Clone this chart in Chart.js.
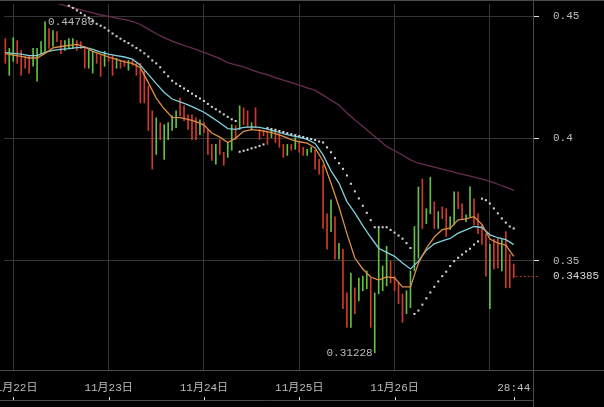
<!DOCTYPE html>
<html>
<head>
<meta charset="utf-8">
<script src="https://cdn.jsdelivr.net/npm/chart.js@4.4.1/dist/chart.umd.min.js"></script>
<style>
  html, body { margin: 0; padding: 0; background: #000; }
  canvas { display: block; }
</style>
</head>
<body>
<canvas id="kline" width="604" height="407"></canvas>
<script>
// hourly bars, hour 0 = 11月22日 00:00
const startHour = -2;

const barHigh = [
    0.4409, 0.4369, 0.4413, 0.4401, 0.4361, 0.4336, 0.4340, 0.4369, 0.4369, 0.4397,
    0.4478, 0.4450, 0.4442, 0.4438, 0.4401, 0.4401, 0.4409, 0.4409, 0.4401, 0.4397,
    0.4377, 0.4361, 0.4357, 0.4348, 0.4340, 0.4357, 0.4340, 0.4340, 0.4328, 0.4320,
    0.4320, 0.4320, 0.4320, 0.4308, 0.4308, 0.4276, 0.4215, 0.4114, 0.4085, 0.4065,
    0.4057, 0.4065, 0.4093, 0.4114, 0.4166, 0.4134, 0.4097, 0.4097, 0.4085, 0.4077,
    0.4065, 0.4037, 0.3976, 0.3976, 0.3996, 0.3944, 0.3984, 0.4057, 0.4053, 0.4134,
    0.4126, 0.4114, 0.4065, 0.4126, 0.4037, 0.4033, 0.4024, 0.4033, 0.4033, 0.4024,
    0.3976, 0.3976, 0.3976, 0.4004, 0.3984, 0.3964, 0.3956, 0.3964, 0.3952, 0.3915,
    0.3891, 0.3692, 0.3749, 0.3680, 0.3571, 0.3547, 0.3368, 0.3449, 0.3389, 0.3429,
    0.3437, 0.3458, 0.3429, 0.3368, 0.3632, 0.3478, 0.3559, 0.3498, 0.3437, 0.3409,
    0.3364, 0.3377, 0.3458, 0.3640, 0.3802, 0.3834, 0.3713, 0.3842, 0.3741, 0.3701,
    0.3721, 0.3713, 0.3680, 0.3782, 0.3782, 0.3733, 0.3688, 0.3802, 0.3753, 0.3692,
    0.3648, 0.3611, 0.3567, 0.3587, 0.3591, 0.3587, 0.3619, 0.3526, 0.3486
];
const barLow = [
    0.4308, 0.4259, 0.4316, 0.4308, 0.4259, 0.4288, 0.4268, 0.4296, 0.4235, 0.4348,
    0.4357, 0.4369, 0.4377, 0.4397, 0.4348, 0.4361, 0.4369, 0.4369, 0.4361, 0.4369,
    0.4288, 0.4288, 0.4268, 0.4308, 0.4255, 0.4296, 0.4316, 0.4259, 0.4288, 0.4288,
    0.4296, 0.4280, 0.4300, 0.4259, 0.4146, 0.4146, 0.4033, 0.3875, 0.3935, 0.3996,
    0.3915, 0.3996, 0.4033, 0.4045, 0.4093, 0.4073, 0.4037, 0.3996, 0.3996, 0.4016,
    0.4024, 0.3935, 0.3911, 0.3895, 0.3935, 0.3891, 0.3923, 0.3952, 0.3996, 0.4037,
    0.4057, 0.4045, 0.4037, 0.4045, 0.3996, 0.4012, 0.3976, 0.4004, 0.3984, 0.3964,
    0.3923, 0.3931, 0.3952, 0.3956, 0.3944, 0.3931, 0.3931, 0.3944, 0.3875, 0.3854,
    0.3632, 0.3547, 0.3619, 0.3506, 0.3506, 0.3304, 0.3227, 0.3227, 0.3283, 0.3336,
    0.3377, 0.3385, 0.3227, 0.31228, 0.3364, 0.3377, 0.3397, 0.3409, 0.3377, 0.3324,
    0.3247, 0.3283, 0.3308, 0.3458, 0.3510, 0.3632, 0.3652, 0.3692, 0.3632, 0.3632,
    0.3672, 0.3599, 0.3628, 0.3648, 0.3713, 0.3668, 0.3660, 0.3680, 0.3648, 0.3611,
    0.3567, 0.3437, 0.3304, 0.3466, 0.3470, 0.3458, 0.3389, 0.3389, 0.3430
];
// 1 = up (green), 0 = down (red)
const barRise = [
    0, 1, 1, 0, 0, 0, 0, 1, 1, 1,
    1, 0, 1, 0, 0, 1, 1, 1, 0, 0,
    0, 1, 1, 0, 0, 1, 0, 0, 1, 0,
    0, 1, 0, 0, 0, 0, 0, 0, 1, 0,
    1, 1, 1, 1, 0, 0, 0, 0, 0, 1,
    0, 0, 0, 1, 0, 0, 1, 1, 0, 1,
    0, 0, 1, 0, 0, 0, 0, 1, 0, 0,
    0, 1, 0, 1, 0, 0, 1, 1, 0, 0,
    0, 0, 1, 0, 1, 0, 0, 1, 0, 1,
    1, 1, 0, 1, 1, 1, 1, 0, 0, 0,
    0, 1, 1, 1, 1, 0, 1, 1, 0, 1,
    0, 0, 1, 1, 0, 0, 1, 1, 0, 0,
    0, 0, 1, 0, 0, 1, 0, 0, 0
];
const lastPrice = 0.34385;

// moving averages, read every 2 hours from hour -2
const maStart = -2;
const maFast = [
    0.4348, 0.4342, 0.4337, 0.4330, 0.4330, 0.4349, 0.4371, 0.4377, 0.4382, 0.4386,
    0.4375, 0.4357, 0.4346, 0.4334, 0.4324, 0.4314, 0.4308, 0.4290, 0.4229, 0.4166,
    0.4122, 0.4087, 0.4086, 0.4079, 0.4069, 0.4055, 0.4023, 0.4006, 0.3984, 0.4002,
    0.4030, 0.4037, 0.4034, 0.4028, 0.4020, 0.4009, 0.3996, 0.3987, 0.3981, 0.3962,
    0.3907, 0.3817, 0.3721, 0.3611, 0.3511, 0.3466, 0.3433, 0.3421, 0.3434, 0.3430,
    0.3393, 0.3393, 0.3490, 0.3551, 0.3597, 0.3627, 0.3633, 0.3667, 0.3671, 0.3680,
    0.3649, 0.3589, 0.3572, 0.3564, 0.3518
];
const maMid = [
    0.4352, 0.4349, 0.4346, 0.4340, 0.4340, 0.4353, 0.4361, 0.4365, 0.4368, 0.4372,
    0.4374, 0.4365, 0.4354, 0.4346, 0.4340, 0.4334, 0.4325, 0.4300, 0.4263, 0.4225,
    0.4189, 0.4162, 0.4150, 0.4138, 0.4124, 0.4108, 0.4087, 0.4065, 0.4041, 0.4038,
    0.4046, 0.4048, 0.4046, 0.4039, 0.4030, 0.4020, 0.4012, 0.4006, 0.3997, 0.3980,
    0.3933, 0.3868, 0.3818, 0.3742, 0.3696, 0.3644, 0.3596, 0.3551, 0.3534, 0.3518,
    0.3491, 0.3466, 0.3498, 0.3543, 0.3569, 0.3581, 0.3591, 0.3613, 0.3626, 0.3640,
    0.3636, 0.3606, 0.3594, 0.3586, 0.3566
];
const maSlowStart = 10;
const maSlow = [
    0.4557, 0.4549, 0.4540, 0.4532, 0.4523, 0.4515, 0.4506, 0.4500, 0.4493, 0.4487,
    0.4480, 0.4467, 0.4448, 0.4429, 0.4413, 0.4399, 0.4387, 0.4376, 0.4365, 0.4353,
    0.4341, 0.4327, 0.4311, 0.4302, 0.4294, 0.4281, 0.4270, 0.4262, 0.4250, 0.4239,
    0.4229, 0.4219, 0.4208, 0.4197, 0.4178, 0.4157, 0.4137, 0.4105, 0.4076, 0.4050,
    0.4022, 0.3995, 0.3968, 0.3950, 0.3933, 0.3913, 0.3899, 0.3891, 0.3883, 0.3875,
    0.3867, 0.3858, 0.3850, 0.3842, 0.3834, 0.3825, 0.3813, 0.3801, 0.3788
];

// parabolic SAR, one dot per hour from hour 14
const sarStart = 14;
const sarValues = [
    0.4544, 0.4535, 0.4525, 0.4515, 0.4504, 0.4494, 0.4482, 0.4470, 0.4462, 0.4454,
    0.4442, 0.4430, 0.4419, 0.4409, 0.4399, 0.4391, 0.4381, 0.4371, 0.4361, 0.4349,
    0.4336, 0.4320, 0.4308, 0.4292, 0.4272, 0.4255, 0.4237, 0.4225, 0.4215, 0.4205,
    0.4195, 0.4184, 0.4174, 0.4164, 0.4154, 0.4142, 0.4130, 0.4120, 0.4110, 0.4099,
    0.4089, 0.4079, 0.4072, 0.3946, 0.3950, 0.3954, 0.3960, 0.3964, 0.3970, 0.3976,
    0.4043, 0.4039, 0.4036, 0.4031, 0.4027, 0.4022, 0.4018, 0.4014, 0.4010, 0.4006,
    0.4002, 0.3998, 0.3994, 0.3988, 0.3984, 0.3964, 0.3944, 0.3920, 0.3899, 0.3876,
    0.3849, 0.3815, 0.3784, 0.3755, 0.3725, 0.3696, 0.3666, 0.3637, 0.3637, 0.3637,
    0.3637, 0.3626, 0.3615, 0.3603, 0.3590, 0.3572, 0.3552, 0.3282, 0.3296, 0.3320,
    0.3346, 0.3370, 0.3393, 0.3415, 0.3437, 0.3455, 0.3478, 0.3498, 0.3512, 0.3525,
    0.3538, 0.3549, 0.3566, 0.3579, 0.3754, 0.3748, 0.3734, 0.3714, 0.3694, 0.3673,
    0.3656, 0.3640, 0.3632
];

// axes
const xTickHours = [0, 24, 48, 72, 96, 120, 126];
const xTickLabels = ['11月22日', '11月23日', '11月24日', '11月25日', '11月26日', '', '28:44'];
const yTickValues = [0.35, 0.4, 0.45];

const xMin = -2.33, xMax = 130.85;
const yMin = 0.30525, yMax = 0.4551;

const upColor = '#62c044';
const downColor = '#cf3a2b';
const textColor = '#bdbdbd';
const gridColor = '#353535';
const lineColor = '#4a4a4a';
const fontFamily = "'Liberation Mono', 'Noto Sans CJK SC', monospace";

const bars = barHigh.map((h, k) => ({ x: startHour + k, y: [barLow[k], h] }));
const fastLine = maFast.map((v, k) => ({ x: maStart + 2 * k, y: v }));
const midLine = maMid.map((v, k) => ({ x: maStart + 2 * k, y: v }));
const slowLine = maSlow.map((v, k) => ({ x: maSlowStart + 2 * k, y: v }));
const sarDots = sarValues.map((v, k) => ({ x: sarStart + k, y: v }));

const framePlugin = {
    id: 'frame',
    afterDraw(chart) {
        const ctx = chart.ctx;
        const area = chart.chartArea;
        const xs = chart.scales.x;
        const ys = chart.scales.y;
        ctx.save();
        ctx.strokeStyle = lineColor;
        ctx.lineWidth = 1;
        ctx.beginPath();
        ctx.moveTo(0, 0.5); ctx.lineTo(chart.width, 0.5);
        ctx.moveTo(0, area.bottom + 0.5); ctx.lineTo(chart.width, area.bottom + 0.5);
        ctx.moveTo(0, area.bottom + 30.5); ctx.lineTo(area.right, area.bottom + 30.5);
        ctx.moveTo(area.right + 0.5, 0); ctx.lineTo(area.right + 0.5, chart.height);
        ctx.stroke();

        // small marks on the time strip
        ctx.strokeStyle = '#e0e0e0';
        ctx.beginPath();
        xTickHours.forEach((h, k) => {
            if (!xTickLabels[k]) return;
            const px = Math.round(xs.getPixelForValue(h)) + 0.5;
            ctx.moveTo(px, area.bottom + 27);
            ctx.lineTo(px, area.bottom + 30);
        });
        ctx.stroke();

        ctx.font = '11px ' + fontFamily;
        ctx.fillStyle = textColor;
        ctx.textBaseline = 'middle';

        // highest high
        const hi = Math.max(...barHigh);
        const hiIdx = barHigh.indexOf(hi);
        ctx.textAlign = 'left';
        ctx.fillText(hi.toFixed(5), xs.getPixelForValue(startHour + hiIdx) + 3, ys.getPixelForValue(hi));

        // lowest low
        const lo = Math.min(...barLow);
        const loIdx = barLow.indexOf(lo);
        ctx.textAlign = 'right';
        ctx.fillText(lo.toFixed(5), xs.getPixelForValue(startHour + loIdx) - 2, ys.getPixelForValue(lo));

        // last price marker
        const py = Math.round(ys.getPixelForValue(lastPrice)) + 0.5;
        const lastX = xs.getPixelForValue(startHour + barHigh.length - 1);
        ctx.strokeStyle = '#b0332a';
        ctx.setLineDash([2, 2]);
        ctx.beginPath();
        ctx.moveTo(lastX + 2, py);
        ctx.lineTo(area.right + 6, py);
        ctx.stroke();
        ctx.setLineDash([]);
        ctx.textAlign = 'left';
        ctx.fillStyle = '#d6d6d6';
        ctx.fillText(lastPrice.toFixed(5), area.right + 20, py);
        ctx.restore();
    }
};

new Chart(document.getElementById('kline'), {
    type: 'bar',
    data: {
        datasets: [
            {
                type: 'scatter',
                data: sarDots,
                pointStyle: 'rect',
                pointRadius: 1.45,
                backgroundColor: '#d4d4d4',
                borderWidth: 0,
                order: 0
            },
            {
                type: 'line',
                data: fastLine,
                borderColor: '#dc8f45',
                borderWidth: 1.3,
                pointRadius: 0,
                tension: 0,
                order: 1
            },
            {
                type: 'line',
                data: midLine,
                borderColor: '#7fd0dc',
                borderWidth: 1.3,
                pointRadius: 0,
                tension: 0,
                order: 2
            },
            {
                type: 'line',
                data: slowLine,
                borderColor: '#6a2c52',
                borderWidth: 1.3,
                pointRadius: 0,
                tension: 0,
                order: 3
            },
            {
                type: 'bar',
                data: bars,
                backgroundColor: barRise.map(r => r ? upColor : downColor),
                borderWidth: 0,
                barThickness: 1,
                order: 4
            }
        ]
    },
    options: {
        responsive: false,
        devicePixelRatio: 1,
        animation: false,
        layout: { padding: 0 },
        plugins: {
            legend: { display: false },
            tooltip: { enabled: false }
        },
        scales: {
            x: {
                type: 'linear',
                position: 'bottom',
                offset: false,
                min: xMin,
                max: xMax,
                border: { display: false },
                grid: {
                    offset: false,
                    color: ctx => (ctx.tick && ctx.tick.value === 126) ? 'rgba(0,0,0,0)' : gridColor,
                    drawTicks: false
                },
                afterBuildTicks: scale => {
                    scale.ticks = xTickHours.map(v => ({ value: v }));
                },
                afterFit: scale => {
                    scale.height = 37;
                    scale.paddingLeft = 0;
                    scale.paddingRight = 0;
                },
                ticks: {
                    autoSkip: false,
                    maxRotation: 0,
                    padding: 11,
                    color: textColor,
                    font: { family: fontFamily, size: 11 },
                    callback: v => xTickLabels[xTickHours.indexOf(v)]
                }
            },
            y: {
                position: 'right',
                min: yMin,
                max: yMax,
                border: { display: false },
                grid: {
                    color: gridColor,
                    drawTicks: true,
                    tickLength: 6,
                    tickColor: '#e0e0e0'
                },
                afterBuildTicks: scale => {
                    scale.ticks = yTickValues.map(v => ({ value: v }));
                },
                afterFit: scale => {
                    scale.width = 71;
                    scale.paddingTop = 0;
                    scale.paddingBottom = 0;
                },
                ticks: {
                    padding: 14,
                    color: textColor,
                    font: { family: fontFamily, size: 11 },
                    callback: v => String(v)
                }
            }
        }
    },
    plugins: [framePlugin]
});
</script>
</body>
</html>
